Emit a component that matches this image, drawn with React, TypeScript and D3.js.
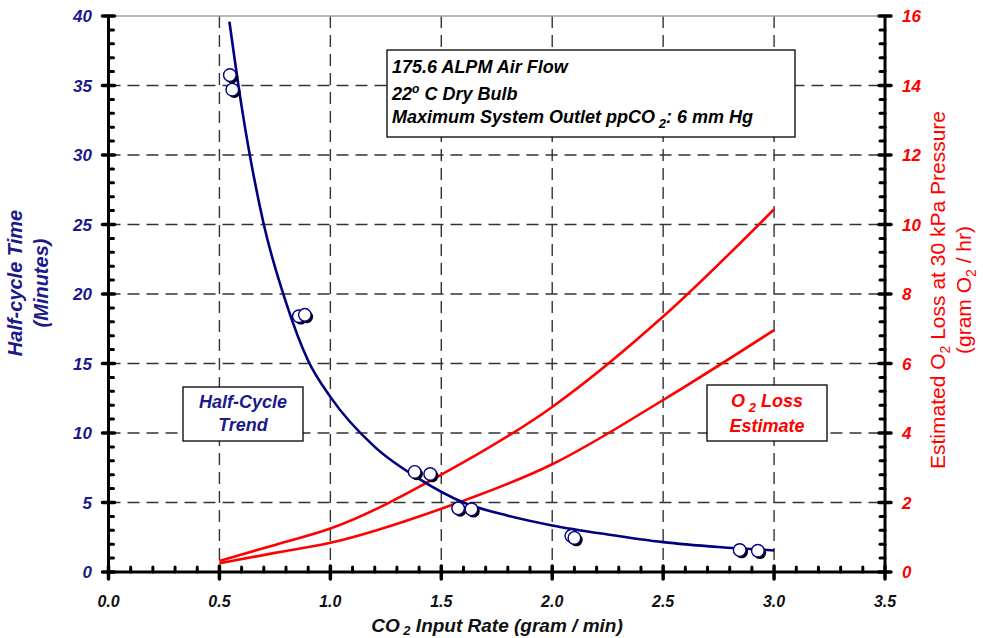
import React from "react";
import * as d3 from "d3";

// measured points of the half-cycle test (gram/min, minutes)
const halfCycleX = [0.547, 0.558, 0.858, 0.885, 1.38, 1.45, 1.576, 1.636, 2.086, 2.1, 2.845, 2.927];
const halfCycleY = [35.75, 34.7, 18.4, 18.5, 7.2, 7.05, 4.58, 4.51, 2.6, 2.45, 1.58, 1.53];

// half-cycle trend line
const trendX = [0.545, 0.6, 0.7, 0.8, 0.9, 1.0, 1.2, 1.4, 1.6, 1.8, 2.0, 2.25, 2.5, 2.75, 3.0];
const trendY = [39.6, 33.5, 25.0, 19.4, 15.2, 12.6, 9.0, 6.7, 5.0, 4.05, 3.35, 2.7, 2.15, 1.8, 1.55];

// O2 loss estimates (gram O2 / hr)
const o2X = [0.5, 0.75, 1.0, 1.5, 2.0, 2.5, 3.0];
const o2Upper = [0.32, 0.78, 1.25, 2.8, 4.75, 7.35, 10.44];
const o2Lower = [0.25, 0.55, 0.84, 1.82, 3.1, 4.95, 6.96];

// ticks
const xTicks = [0, 0.5, 1.0, 1.5, 2.0, 2.5, 3.0, 3.5];
const leftTicks = [0, 5, 10, 15, 20, 25, 30, 35, 40];
const rightTicks = [0, 2, 4, 6, 8, 10, 12, 14, 16];

const W = 983;
const H = 638;
const L = 108.5, R = 885, T = 16, B = 572;

const FONT = "'Liberation Sans', Arial, Helvetica, sans-serif";
const NAVY = "#000080";
const LBLUE = "#1a1a8c";
const RED = "#ff0000";

export default function App() {
  const x = d3.scaleLinear().domain([0, 3.5]).range([L, R]);
  const yL = d3.scaleLinear().domain([0, 40]).range([B, T]);
  const yR = d3.scaleLinear().domain([0, 16]).range([B, T]);

  const xMinor = d3.range(0, 36).map((d) => d / 10).filter((d) => Math.round(d * 10) % 5 !== 0);
  const leftMinor = d3.range(0, 41).filter((d) => d % 5 !== 0);
  const rightMinor = d3.range(0, 41).map((d) => d * 0.4).filter((_, i) => i % 5 !== 0);

  const trendLine = d3
    .line<number>()
    .x((_, i) => x(trendX[i]))
    .y((d) => yL(d))
    .curve(d3.curveMonotoneX);

  const o2Line = d3
    .line<number>()
    .x((_, i) => x(o2X[i]))
    .y((d) => yR(d))
    .curve(d3.curveMonotoneX);

  const fmt = d3.format(".1f");

  return (
    <svg
      width={W}
      height={H}
      style={{ position: "absolute", left: 0, top: 0, background: "#fff" }}
      fontFamily={FONT}
    >
      {/* grid */}
      <g stroke="#333" strokeWidth={1.4} strokeDasharray="12,7">
        {leftTicks.slice(1, -1).map((d) => (
          <line key={"h" + d} x1={L} x2={R} y1={yL(d)} y2={yL(d)} />
        ))}
        {xTicks.slice(1, -1).map((d) => (
          <line key={"v" + d} x1={x(d)} x2={x(d)} y1={T} y2={B} />
        ))}
      </g>
      <line x1={L} x2={R} y1={T} y2={T} stroke="#a0a0a0" strokeWidth={1.5} />

      {/* O2 loss curves */}
      <path d={o2Line(o2Upper) || ""} fill="none" stroke={RED} strokeWidth={2.6} />
      <path d={o2Line(o2Lower) || ""} fill="none" stroke={RED} strokeWidth={2.6} />

      {/* half-cycle trend */}
      <path d={trendLine(trendY) || ""} fill="none" stroke={NAVY} strokeWidth={2.6} />

      {/* data points with shadow */}
      {halfCycleX.map((d, i) => (
        <g key={"p" + i}>
          <circle cx={x(d) + 2} cy={yL(halfCycleY[i]) + 2} r={6.3} fill="#000" />
          <circle cx={x(d)} cy={yL(halfCycleY[i])} r={6.3} fill="#fff" stroke={NAVY} strokeWidth={1.4} />
        </g>
      ))}

      {/* condition box */}
      <rect x={387} y={50} width={408} height={87} fill="#fff" stroke="#000" strokeWidth={1.3} />
      <g fontWeight="bold" fontStyle="italic" fontSize={18} fill="#000">
        <text x={392} y={73}>175.6 ALPM Air Flow</text>
        <text x={392} y={100}>
          22<tspan dy={-7} fontSize={12}>o</tspan>
          <tspan dy={7}> C Dry Bulb</tspan>
        </text>
        <text x={392} y={123}>
          Maximum System Outlet ppCO<tspan dy={5} fontSize={13}> 2</tspan>
          <tspan dy={-5}>: 6 mm Hg</tspan>
        </text>
      </g>

      {/* series labels */}
      <rect x={183} y={387} width={120} height={54} fill="#fff" stroke="#000" strokeWidth={1.3} />
      <g fontWeight="bold" fontStyle="italic" fontSize={18} fill={LBLUE} textAnchor="middle">
        <text x={243} y={408}>Half-Cycle</text>
        <text x={243} y={431}>Trend</text>
      </g>
      <rect x={707} y={385} width={120} height={56} fill="#fff" stroke="#000" strokeWidth={1.3} />
      <g fontWeight="bold" fontStyle="italic" fontSize={18} fill={RED} textAnchor="middle">
        <text x={767} y={407}>
          O<tspan dy={5} fontSize={13}> 2</tspan>
          <tspan dy={-5}> Loss</tspan>
        </text>
        <text x={767} y={432}>Estimate</text>
      </g>

      {/* axes */}
      <g stroke="#000" strokeLinecap="round">
        <line x1={L} x2={L} y1={T} y2={B} strokeWidth={3} />
        <line x1={R} x2={R} y1={T} y2={B} strokeWidth={3} />
        <line x1={L} x2={R} y1={B} y2={B} strokeWidth={3} />
        {leftTicks.map((d) => (
          <line key={"lt" + d} x1={L - 6} x2={L + 6} y1={yL(d)} y2={yL(d)} strokeWidth={3.5} />
        ))}
        {leftMinor.map((d) => (
          <line key={"lm" + d} x1={L} x2={L + 5} y1={yL(d)} y2={yL(d)} strokeWidth={3} />
        ))}
        {rightTicks.map((d) => (
          <line key={"rt" + d} x1={R - 6} x2={R + 6} y1={yR(d)} y2={yR(d)} strokeWidth={3.5} />
        ))}
        {rightMinor.map((d) => (
          <line key={"rm" + d} x1={R - 5} x2={R} y1={yR(d)} y2={yR(d)} strokeWidth={3} />
        ))}
        {xTicks.map((d) => (
          <line key={"xt" + d} x1={x(d)} x2={x(d)} y1={B - 6} y2={B + 7} strokeWidth={3.5} />
        ))}
        {xMinor.map((d) => (
          <line key={"xm" + d} x1={x(d)} x2={x(d)} y1={B - 5} y2={B} strokeWidth={3} />
        ))}
      </g>

      {/* tick labels */}
      <g fontWeight="bold" fontStyle="italic" fontSize={17} fill={LBLUE} textAnchor="end">
        {leftTicks.map((d) => (
          <text key={"ll" + d} x={92} y={yL(d)} dy="0.36em">
            {d}
          </text>
        ))}
      </g>
      <g fontWeight="bold" fontStyle="italic" fontSize={17} fill={RED} textAnchor="start">
        {rightTicks.map((d) => (
          <text key={"rl" + d} x={902} y={yR(d)} dy="0.36em">
            {d}
          </text>
        ))}
      </g>
      <g fontWeight="bold" fontStyle="italic" fontSize={16} fill="#111" textAnchor="middle">
        {xTicks.map((d) => (
          <text key={"xl" + d} x={x(d)} y={607}>
            {fmt(d)}
          </text>
        ))}
      </g>

      {/* axis titles */}
      <text x={497} y={632} textAnchor="middle" fontWeight="bold" fontStyle="italic" fontSize={19} fill="#111">
        CO<tspan dy={3} fontSize={13}> 2</tspan>
        <tspan dy={-3}> Input Rate (gram / min)</tspan>
      </text>
      <g transform="translate(22,283) rotate(-90)" fontWeight="bold" fontStyle="italic" fontSize={20} fill={LBLUE} textAnchor="middle">
        <text x={0} y={0}>Half-cycle Time</text>
        <text x={0} y={26}>(Minutes)</text>
      </g>
      <g transform="translate(945,290) rotate(-90)" fontSize={21} fill={RED} textAnchor="middle">
        <text x={0} y={0}>
          Estimated O<tspan dy={5} fontSize={14}>2</tspan>
          <tspan dy={-5}> Loss at 30 kPa Pressure</tspan>
        </text>
        <text x={0} y={26}>
          (gram O<tspan dy={5} fontSize={14}>2</tspan>
          <tspan dy={-5}> / hr)</tspan>
        </text>
      </g>
    </svg>
  );
}
